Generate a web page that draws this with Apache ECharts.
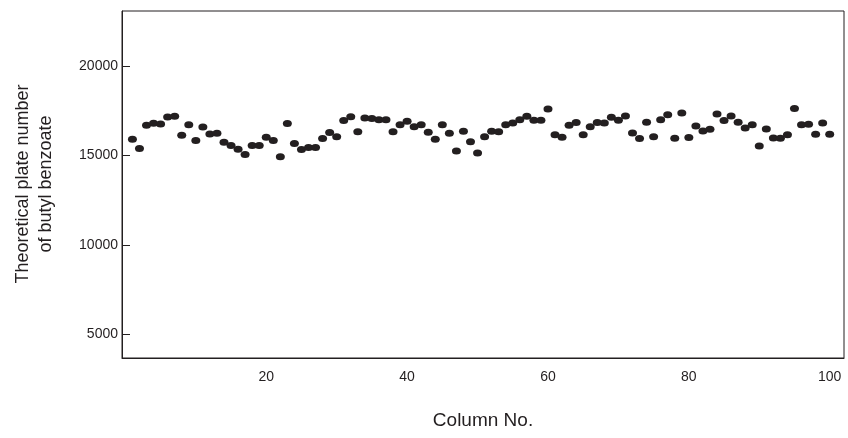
<!DOCTYPE html>
<html>
<head>
    <meta charset="utf-8">
    <title>Theoretical plate number</title>
    <style>
        html,
        body,
        #chart {
            margin: 0px;
            padding: 0px;
            width: 848px;
            height: 438px;
            background: #ffffff;
        }
    </style>
</head>
<body>
    <div id="chart"></div>
    <script src="https://cdn.jsdelivr.net/npm/echarts@6/dist/echarts.min.js"></script>
    <script type="text/javascript">
        // column number 1..100
        var columnNos = [];
        for (var i = 1; i <= 100; i++) {
            columnNos.push(i);
        }
        // theoretical plate number of butyl benzoate
        var plateNumbers = [
            15920, 15390, 16700, 16810, 16770, 17160, 17200, 16140, 16720, 15840,
            16600, 16210, 16250, 15750, 15560, 15360, 15060, 15560, 15560, 16030,
            15840, 14930, 16790, 15670, 15340, 15450, 15450, 15950, 16290, 16050,
            16960, 17180, 16340, 17110, 17070, 17000, 17000, 16340, 16720, 16920,
            16620, 16730, 16310, 15920, 16720, 16250, 15260, 16360, 15780, 15150,
            16060, 16360, 16330, 16720, 16830, 17010, 17200, 16980, 16980, 17610,
            16170, 16030, 16700, 16850, 16160, 16620, 16850, 16830, 17150, 16980,
            17220, 16270, 15950, 16870, 16050, 17010, 17290, 15970, 17390, 16010,
            16660, 16380, 16480, 17330, 16960, 17220, 16870, 16550, 16720, 15540,
            16490, 15990, 15970, 16170, 17630, 16730, 16760, 16200, 16830, 16200
        ];
        // tick labels
        var xTicks = [20, 40, 60, 80, 100];
        var yTicks = [5000, 10000, 15000, 20000];

        var points = [];
        for (var j = 0; j < columnNos.length; j++) {
            points.push([columnNos[j], plateNumbers[j]]);
        }

        var ink = '#231f20';
        var font = 'Liberation Sans, Arial, sans-serif';
        var myChart = echarts.init(document.getElementById('chart'));

        myChart.setOption({
            animation: false,
            grid: {
                left: 122,
                right: 4,
                top: 11,
                bottom: 80,
                show: true,
                borderColor: ink,
                borderWidth: 1
            },
            xAxis: {
                type: 'value',
                min: -0.48,
                max: 102.03,
                axisLine: { show: true, onZero: false, lineStyle: { color: ink, width: 1 } },
                axisTick: { show: false },
                splitLine: { show: false },
                axisLabel: {
                    customValues: xTicks,
                    color: ink,
                    fontSize: 14,
                    fontFamily: font,
                    margin: 12
                },
                name: 'Column No.',
                nameLocation: 'middle',
                nameGap: 53,
                nameTextStyle: {
                    color: ink,
                    fontSize: 19,
                    fontFamily: font
                }
            },
            yAxis: {
                type: 'value',
                min: 3669,
                max: 23093,
                axisLine: { show: true, onZero: false, lineStyle: { color: ink, width: 1 } },
                axisTick: {
                    show: true,
                    inside: true,
                    length: 8,
                    customValues: yTicks,
                    lineStyle: { color: ink, width: 1 }
                },
                splitLine: { show: false },
                axisLabel: {
                    customValues: yTicks,
                    color: ink,
                    fontSize: 14,
                    fontFamily: font,
                    margin: 4,
                    formatter: function (v) {
                        return String(v);
                    }
                }
            },
            graphic: [{
                type: 'text',
                x: 35,
                y: 184,
                rotation: Math.PI / 2,
                style: {
                    text: 'Theoretical plate number\nof butyl benzoate',
                    fill: ink,
                    fontSize: 18,
                    lineHeight: 23,
                    fontFamily: font,
                    align: 'center',
                    verticalAlign: 'middle'
                }
            }],
            series: [{
                type: 'scatter',
                data: points,
                symbol: 'circle',
                symbolSize: [9, 7],
                itemStyle: { color: ink, opacity: 1 }
            }]
        });
    </script>
</body>
</html>
